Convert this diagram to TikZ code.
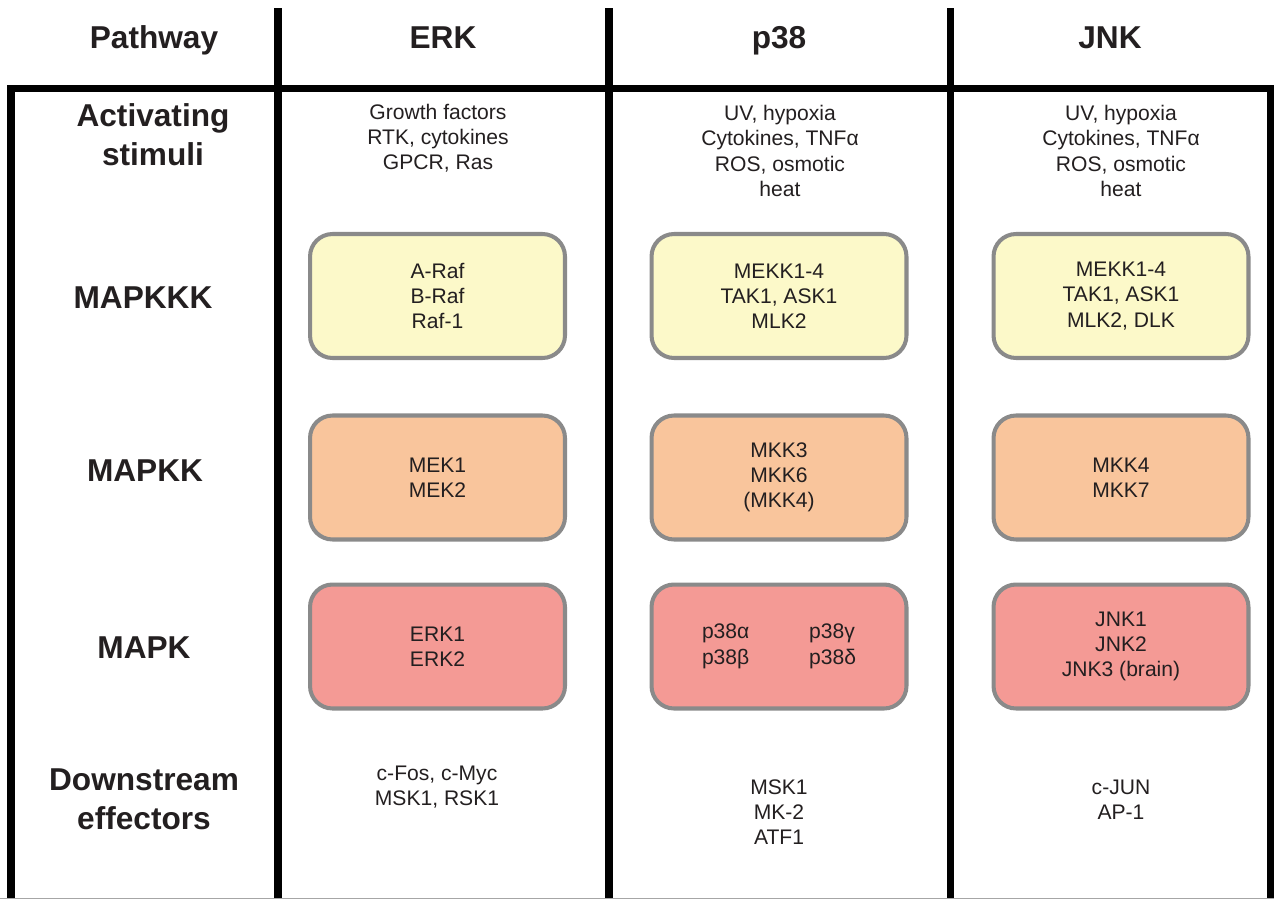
\documentclass[tikz,border=0pt]{standalone}
\usepackage{fontspec}
\setmainfont{Liberation Sans}
\definecolor{ink}{HTML}{231F20}
\definecolor{kkkfill}{HTML}{FCF9C9}
\definecolor{kkfill}{HTML}{F9C59C}
\definecolor{kfill}{HTML}{F49A95}
\definecolor{boxline}{HTML}{8A8A8A}
\tikzset{
  rowlabel/.style={font=\fontsize{18}{22}\selectfont\bfseries, text=ink, align=center},
  celltext/.style={font=\fontsize{12}{14.3}\selectfont, text=ink, align=center},
  kinase/.style={celltext, draw=boxline, line width=2.3pt, rounded corners=0.45cm,
                 minimum width=5.1cm, minimum height=2.48cm},
  gridline/.style={draw=black, line width=4pt}
}

\begin{document}
\begin{tikzpicture}[x=0.02cm, y=-0.02cm]
    \useasboundingbox (0,0) rectangle (1274,899);

    \draw [gridline] (11,899) -- (11,88.5) -- (1270,88.5) -- (1270,899);
    \foreach \xc in {278,609,950.5}
        \draw [gridline] (\xc,8) -- (\xc,899);
    \draw [gray!70, line width=0.6pt] (0,898.5) -- (1274,898.5);

    \node [rowlabel] [anchor=base] (pathway) at (154,48)  {Pathway};
    \node [rowlabel] [anchor=base] (erk)     at (443,48)  {ERK};
    \node [rowlabel] [anchor=base] (p38)     at (779,48)  {p38};
    \node [rowlabel] [anchor=base] (jnk)     at (1110,48) {JNK};

    \node [rowlabel] (stimuli)   at (153,135) {Activating\\stimuli};
    \node [rowlabel] (mapkkk)    at (143,298) {MAPKKK};
    \node [rowlabel] (mapkk)     at (145,471) {MAPKK};
    \node [rowlabel] (mapk)      at (144,648) {MAPK};
    \node [rowlabel] (effectors) at (144,799) {Downstream\\effectors};

    \node [celltext] (erkstim) at (438,138)  {Growth factors\\RTK, cytokines\\GPCR, Ras};
    \node [celltext] (p38stim) at (780,151)  {UV, hypoxia\\Cytokines, TNFα\\ROS, osmotic\\heat};
    \node [celltext] (jnkstim) at (1121,151) {UV, hypoxia\\Cytokines, TNFα\\ROS, osmotic\\heat};

    \node [kinase, fill=kkkfill] (erkkkk) at (437.5,296) {A-Raf\\B-Raf\\Raf-1};
    \node [kinase, fill=kkkfill] (p38kkk) at (779,296)   {MEKK1-4\\TAK1, ASK1\\MLK2};
    \node [kinase, fill=kkkfill] (jnkkkk) at (1121,296)  {MEKK1-4\\TAK1, ASK1\\MLK2, DLK};

    \node [kinase, fill=kkfill] (erkkk) at (437.5,477.5) {MEK1\\MEK2};
    \node [kinase, fill=kkfill] (p38kk) at (779,477.5)   {MKK3\\MKK6\\(MKK4)};
    \node [kinase, fill=kkfill] (jnkkk) at (1121,477.5)  {MKK4\\MKK7};

    \node [kinase, fill=kfill] (erkk) at (437.5,646.5) {ERK1\\ERK2};
    \node [kinase, fill=kfill] (p38k) at (779,646.5)
        {\begin{tabular}{@{}l@{\hspace{34pt}}l@{}}p38α & p38γ\\ p38β & p38δ\end{tabular}};
    \node [kinase, fill=kfill] (jnkk) at (1121,646.5)  {JNK1\\JNK2\\JNK3 (brain)};

    \node [celltext] (erkeff) at (437,787.5)  {c-Fos, c-Myc\\MSK1, RSK1};
    \node [celltext] (p38eff) at (779,812)    {MSK1\\MK-2\\ATF1};
    \node [celltext] (jnkeff) at (1121,799.5) {c-JUN\\AP-1};
\end{tikzpicture}
\end{document}
